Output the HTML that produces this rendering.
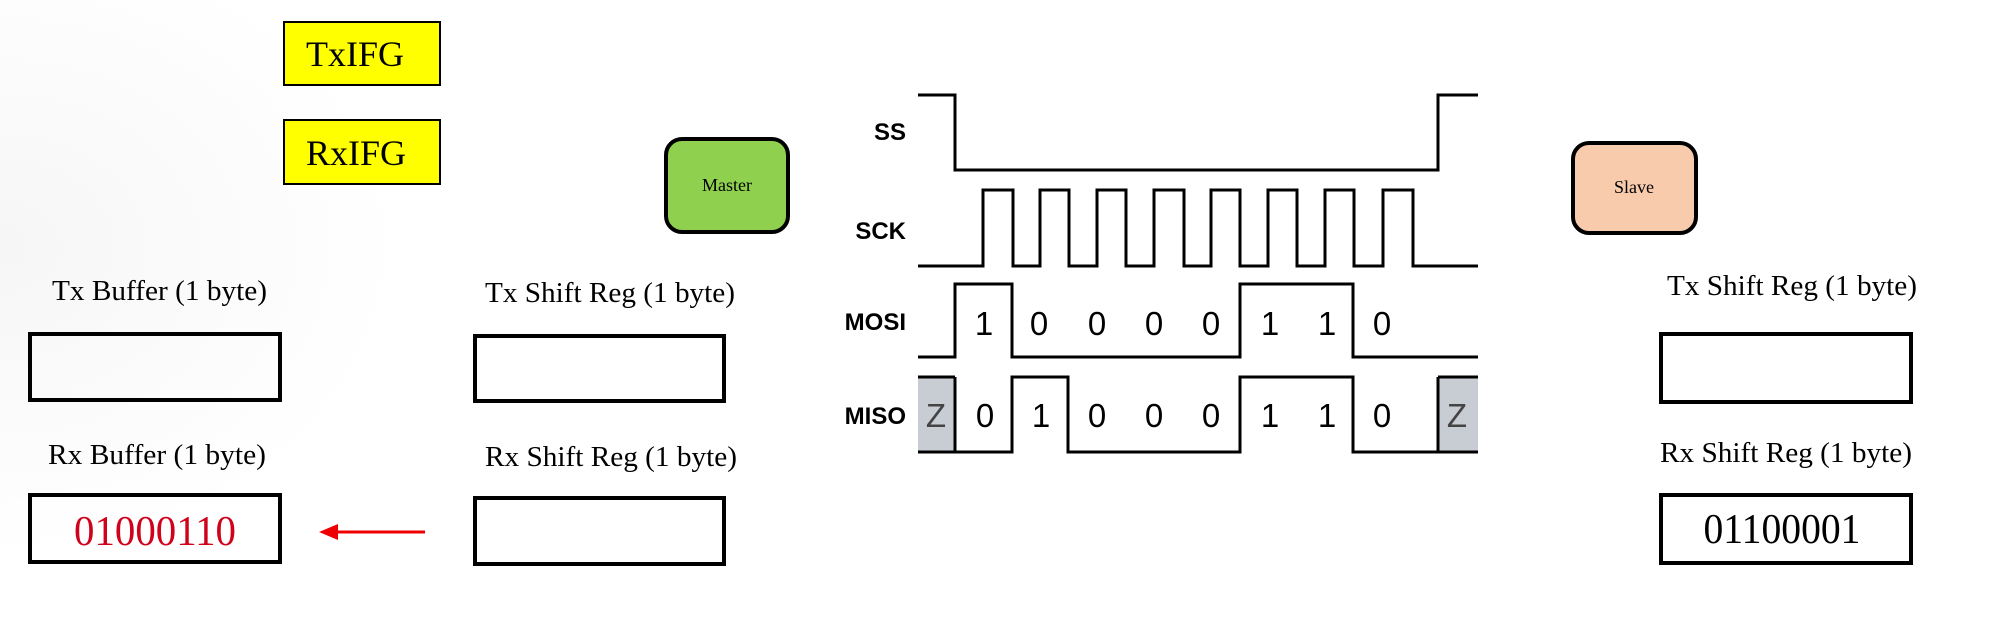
<!DOCTYPE html>
<html><head><meta charset="utf-8"><style>
html,body{margin:0;padding:0;background:#fff;}
svg{display:block;}
.s{font-family:"Liberation Serif",serif;}
.a{font-family:"Liberation Sans",sans-serif;}
</style></head><body>
<svg width="2000" height="617" viewBox="0 0 2000 617" xmlns="http://www.w3.org/2000/svg">
<defs>
<radialGradient id="bg" cx="0" cy="0.4" r="0.5">
<stop offset="0" stop-color="#f6f6f6"/><stop offset="1" stop-color="#fff"/>
</radialGradient>
</defs>
<rect width="2000" height="617" fill="#fff"/>
<rect width="800" height="617" fill="url(#bg)"/>

<!-- flags -->
<rect x="284" y="22" width="156" height="63" fill="#ffff00" stroke="#000" stroke-width="2"/>
<text x="306" y="66" class="s" font-size="36">TxIFG</text>
<rect x="284" y="120" width="156" height="64" fill="#ffff00" stroke="#000" stroke-width="2"/>
<text x="306" y="165" class="s" font-size="36">RxIFG</text>

<!-- master/slave -->
<rect x="666" y="139" width="122" height="93" rx="16" fill="#8fd14f" stroke="#000" stroke-width="4"/>
<text x="727" y="191" class="s" font-size="18" text-anchor="middle">Master</text>
<rect x="1573" y="143" width="123" height="90" rx="16" fill="#f8cbad" stroke="#000" stroke-width="4"/>
<text x="1634" y="193" class="s" font-size="18" text-anchor="middle">Slave</text>

<!-- labels -->
<g class="s" font-size="28">
<text x="52" y="300" textLength="215" lengthAdjust="spacingAndGlyphs">Tx Buffer (1 byte)</text>
<text x="485" y="302" textLength="250" lengthAdjust="spacingAndGlyphs">Tx Shift Reg (1 byte)</text>
<text x="48" y="464" textLength="218" lengthAdjust="spacingAndGlyphs">Rx Buffer (1 byte)</text>
<text x="485" y="466" textLength="252" lengthAdjust="spacingAndGlyphs">Rx Shift Reg (1 byte)</text>
<text x="1667" y="295" textLength="250" lengthAdjust="spacingAndGlyphs">Tx Shift Reg (1 byte)</text>
<text x="1660" y="462" textLength="252" lengthAdjust="spacingAndGlyphs">Rx Shift Reg (1 byte)</text>
</g>

<g fill="none" stroke="#000" stroke-width="4">
<rect x="30" y="334" width="250" height="66"/>
<rect x="30" y="495" width="250" height="67"/>
<rect x="475" y="336" width="249" height="65"/>
<rect x="475" y="498" width="249" height="66"/>
<rect x="1661" y="334" width="250" height="68"/>
<rect x="1661" y="495" width="250" height="68"/>
</g>
<text x="155" y="545" class="s" font-size="42" fill="#d0021b" text-anchor="middle" textLength="162" lengthAdjust="spacingAndGlyphs">01000110</text>
<text x="1782" y="543" class="s" font-size="42" fill="#000" text-anchor="middle" textLength="157" lengthAdjust="spacingAndGlyphs">01100001</text>

<!-- red arrow -->
<line x1="425" y1="532" x2="335" y2="532" stroke="#e00" stroke-width="3"/>
<polygon points="319,532 338,524 338,540" fill="#e00"/>

<!-- timing labels -->
<g class="a" font-size="24" font-weight="bold" text-anchor="end">
<text x="906" y="140">SS</text>
<text x="906" y="239">SCK</text>
<text x="906" y="330">MOSI</text>
<text x="906" y="424">MISO</text>
</g>

<!-- Z boxes -->
<rect x="918" y="377" width="37" height="75" fill="#c8ccd3"/>
<rect x="1438" y="377" width="40" height="75" fill="#c8ccd3"/>

<g fill="none" stroke="#000" stroke-width="3">
<polyline points="918,95 955,95 955,170 1438,170 1438,95 1478,95"/>
<polyline points="918,266 983,266 983,190 1013,190 1013,266 1040,266 1040,190 1069,190 1069,266 1097,266 1097,190 1126,190 1126,266 1154,266 1154,190 1184,190 1184,266 1211,266 1211,190 1240,190 1240,266 1268,266 1268,190 1297,190 1297,266 1325,266 1325,190 1354,190 1354,266 1383,266 1383,190 1413,190 1413,266 1478,266"/>
<polyline points="918,357 955,357 955,284 1012,284 1012,357 1240,357 1240,284 1353,284 1353,357 1478,357"/>
<polyline points="955,377 955,452 1012,452 1012,377 1068,377 1068,452 1240,452 1240,377 1353,377 1353,452 1438,452 1438,377"/>
<line x1="918" y1="377" x2="955" y2="377"/>
<line x1="918" y1="452" x2="955" y2="452"/>
<line x1="1438" y1="377" x2="1478" y2="377"/>
<line x1="1438" y1="452" x2="1478" y2="452"/>
</g>

<g class="a" font-size="33" text-anchor="middle" fill="#000">
<text x="984" y="335">1</text><text x="1039" y="335">0</text><text x="1097" y="335">0</text><text x="1154" y="335">0</text><text x="1211" y="335">0</text><text x="1270" y="335">1</text><text x="1327" y="335">1</text><text x="1382" y="335">0</text>
<text x="936" y="427" fill="#444">Z</text><text x="985" y="427">0</text><text x="1041" y="427">1</text><text x="1097" y="427">0</text><text x="1154" y="427">0</text><text x="1211" y="427">0</text><text x="1270" y="427">1</text><text x="1327" y="427">1</text><text x="1382" y="427">0</text><text x="1457" y="427" fill="#444">Z</text>
</g>
</svg>
</body></html>
